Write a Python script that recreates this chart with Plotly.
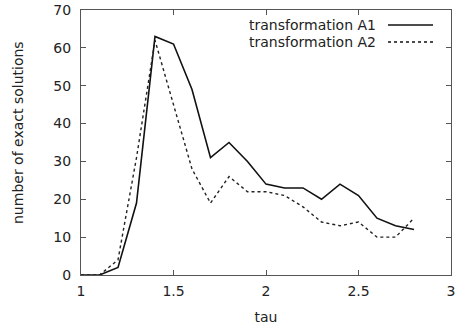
import plotly.graph_objects as go

tau = [1.0, 1.1, 1.2, 1.3, 1.4, 1.5, 1.6, 1.7, 1.8, 1.9, 2.0,
       2.1, 2.2, 2.3, 2.4, 2.5, 2.6, 2.7, 2.8]
a1 = [0, 0, 2, 19, 63, 61, 49, 31, 35, 30, 24, 23, 23, 20, 24, 21, 15, 13, 12]
a2 = [0, 0, 4, 31, 62, 45, 28, 19, 26, 22, 22, 21, 18, 14, 13, 14, 10, 10, 15]
names = ["transformation A1", "transformation A2"]
x_ticks = [1, 1.5, 2, 2.5, 3]
y_ticks = [0, 10, 20, 30, 40, 50, 60, 70]

font = dict(family="DejaVu Sans, sans-serif", size=14, color="#222")
axis_color = "#555"

fig = go.Figure()
fig.add_trace(go.Scatter(x=tau, y=a1, mode="lines", name=names[0],
                         line=dict(color="#111", width=1.6)))
fig.add_trace(go.Scatter(x=tau, y=a2, mode="lines", name=names[1],
                         line=dict(color="#222", width=1.4, dash="dot")))

# plot area in pixels, used to place the key and the y title
L, R, T, B = 81, 451, 10, 275
W, H = float(R - L), float(B - T)

# gnuplot-style key: label on the left, line sample on the right
rows = [(25, "solid", 1.6), (42, "dot", 1.4)]
for (py, dash, w), label in zip(rows, names):
    yp = (B - py) / H
    fig.add_annotation(x=(378 - L) / W, y=yp, xref="paper", yref="paper",
                       text=label, showarrow=False, xanchor="right",
                       yanchor="middle", font=font)
    fig.add_shape(type="line", xref="paper", yref="paper",
                  x0=(388 - L) / W, x1=(433 - L) / W, y0=yp, y1=yp,
                  line=dict(color="#111", width=w, dash=dash))

fig.add_annotation(x=(18 - L) / W, y=(B - 133) / H, xref="paper", yref="paper",
                   text="number of exact solutions", textangle=-90,
                   showarrow=False, xanchor="center", yanchor="middle", font=font)

axis_common = dict(showline=True, linecolor=axis_color, linewidth=1.2,
                   mirror="ticks", ticks="inside", ticklen=5,
                   tickcolor=axis_color, tickwidth=1, showgrid=False,
                   zeroline=False, tickfont=font, automargin=False)

fig.update_layout(
    width=461, height=330,
    margin=dict(l=L, r=461 - R, t=T, b=330 - B),
    paper_bgcolor="white", plot_bgcolor="white",
    showlegend=False,
    font=font,
    xaxis=dict(range=[1, 3], tickvals=x_ticks, ticktext=[str(v) for v in x_ticks],
               title=dict(text="tau", font=font, standoff=14),
               ticklabelstandoff=3, **axis_common),
    yaxis=dict(range=[0, 70], tickvals=y_ticks,
               ticklabelstandoff=6, **axis_common),
)

fig.write_html("out.html")
